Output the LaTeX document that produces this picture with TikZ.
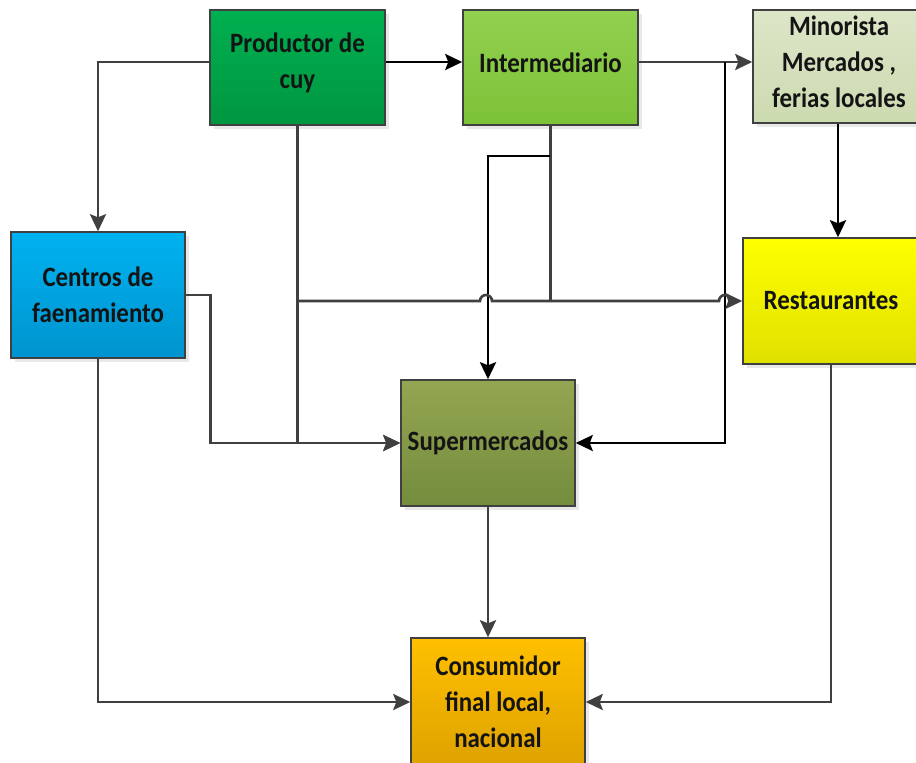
\documentclass[tikz,border=0pt]{standalone}
\usepackage{fontspec}
\setmainfont{Carlito}[FakeStretch=0.89]
\usetikzlibrary{arrows.meta,shadows,calc}

\definecolor{edgegray}{HTML}{404040}
\definecolor{txt}{HTML}{141414}
\definecolor{prodA}{HTML}{00B050}\definecolor{prodB}{HTML}{009640}
\definecolor{interA}{HTML}{92D050}\definecolor{interB}{HTML}{7CC237}
\definecolor{minoA}{HTML}{DCE6C8}\definecolor{minoB}{HTML}{CCDAB0}
\definecolor{centA}{HTML}{00B2F0}\definecolor{centB}{HTML}{0094CF}
\definecolor{restA}{HTML}{FFFF00}\definecolor{restB}{HTML}{E0E000}
\definecolor{supA}{HTML}{93A651}\definecolor{supB}{HTML}{758C3E}
\definecolor{consA}{HTML}{FFC000}\definecolor{consB}{HTML}{DEA200}

\tikzset{
  boxfont/.style={font=\fontsize{28pt}{36pt}\selectfont\bfseries, text=txt, align=center},
  box/.style={boxfont, draw=edgegray, line width=1.5pt, minimum width=175pt, minimum height=126pt,
    drop shadow={opacity=0.18, shadow xshift=4pt, shadow yshift=-4pt}},
  % top row: boxes cut by the sheet edge, text sits a little high
  topbox/.style={box, minimum height=115pt},
  toplabel/.style={label={[boxfont, yshift=5pt]center:#1}},
  tip/.style={-{Stealth[length=17pt,width=16pt,inset=3pt]}},
  gl/.style={draw=edgegray, line width=2.6pt},
  bl/.style={draw=black, line width=2.6pt},
}

\begin{document}
\begin{tikzpicture}[x=1pt,y=-1pt]
\useasboundingbox (0,0) rectangle (916,763);
\clip (0,0) rectangle (916,763);
\fill[white] (0,0) rectangle (916,763);

% actors of the chain
\node[topbox, top color=prodA, bottom color=prodB, toplabel={Productor de\\cuy}] (prod) at (297.5,67.5) {};
\node[topbox, top color=interA, bottom color=interB, toplabel={Intermediario}] (inter) at (550.5,67.5) {};
\node[topbox, minimum width=172pt, minimum height=113pt, top color=minoA, bottom color=minoB,
  toplabel={Minorista\\Mercados ,\\ferias locales}] (mino) at (839,66.5) {};
\node[box, minimum width=174pt, top color=centA, bottom color=centB] (cent) at (98,295) {Centros de\\faenamiento};
\node[box, minimum width=176pt, top color=restA, bottom color=restB] (rest) at (831,301) {Restaurantes};
\node[box, minimum width=174pt, top color=supA, bottom color=supB] (sup) at (488,443) {Supermercados};
\node[box, minimum width=174pt, minimum height=128pt, top color=consA, bottom color=consB] (cons) at (498,702) {Consumidor\\final local,\\nacional};

% branch points
\coordinate (row) at (0,62);
\coordinate (tapR) at (725,62);
\coordinate (tapL) at (298,301);
\coordinate (tapI) at (550,156);

% flows
\draw[gl,tip] (prod.west |- row) -| (cent.north);
\draw[bl,tip] (prod.east |- row) -- (inter.west |- row);
\draw[gl,tip] (inter.east |- row) -- (mino.west |- row);
\draw[bl,tip] (tapR) |- (sup.east);
\draw[gl,tip] (prod.south) |- (sup.west);
\draw[gl,tip] (cent.east) -- ++(25,0) |- (sup.west);
\draw[gl] (inter.south) -- (inter.south |- tapL);
\draw[bl,tip] (tapI) -| (sup.north);
\draw[gl,tip] (tapL) -- (480,301) arc[start angle=180,end angle=0,radius=6pt]
  -- (719,301) arc[start angle=180,end angle=0,radius=6pt] -- (rest.west);
\draw[bl,tip] (mino.south -| 838,0) -- (838,0 |- rest.north);
\draw[gl,tip] (cent.south) |- (cons.west);
\draw[gl,tip] (sup.south) -- (sup.south |- cons.north);
\draw[gl,tip] (rest.south) |- (cons.east);
\end{tikzpicture}
\end{document}
